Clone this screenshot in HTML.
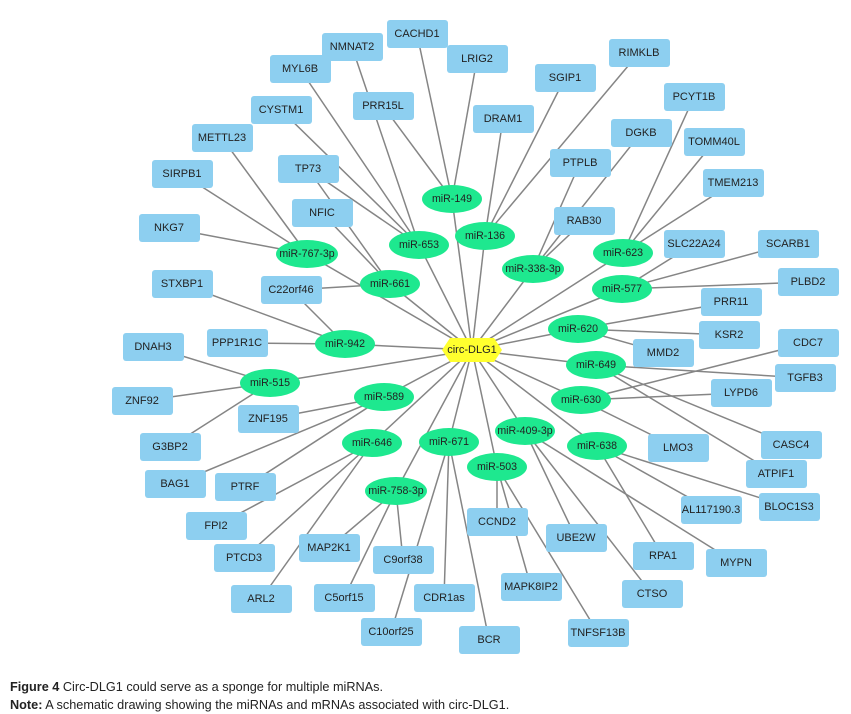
<!DOCTYPE html>
<html><head><meta charset="utf-8"><style>
body{margin:0;background:#fff;}
svg{display:block}
.b{fill:#8dcff0}
.e{fill:#1ee88f}
text{font-family:"Liberation Sans",Arial,sans-serif;font-size:11px;fill:#222;text-anchor:middle;dominant-baseline:central}
.m{font-size:10.6px}
line{stroke:#858585;stroke-width:1.5}
.cap{font-family:"Liberation Sans",Arial,sans-serif;font-size:12.7px;fill:#222;text-anchor:start;dominant-baseline:auto}
</style></head><body>
<svg width="851" height="714" viewBox="0 0 851 714" xmlns="http://www.w3.org/2000/svg">
<g id="edges">
<line x1="472" y1="350" x2="452" y2="199"/><line x1="472" y1="350" x2="419" y2="245"/><line x1="472" y1="350" x2="485" y2="236"/>
<line x1="472" y1="350" x2="307" y2="254"/><line x1="472" y1="350" x2="390" y2="284"/><line x1="472" y1="350" x2="533" y2="269"/>
<line x1="472" y1="350" x2="623" y2="253"/><line x1="472" y1="350" x2="622" y2="289"/><line x1="472" y1="350" x2="345" y2="344"/>
<line x1="472" y1="350" x2="578" y2="329"/><line x1="472" y1="350" x2="596" y2="365"/><line x1="472" y1="350" x2="270" y2="383"/>
<line x1="472" y1="350" x2="384" y2="397"/><line x1="472" y1="350" x2="581" y2="400"/><line x1="472" y1="350" x2="372" y2="443"/>
<line x1="472" y1="350" x2="449" y2="442"/><line x1="472" y1="350" x2="525" y2="431"/><line x1="472" y1="350" x2="597" y2="446"/>
<line x1="472" y1="350" x2="497" y2="467"/><line x1="472" y1="350" x2="396" y2="491"/>
<line x1="452" y1="199" x2="417" y2="34"/><line x1="452" y1="199" x2="477" y2="59"/><line x1="452" y1="199" x2="383" y2="106"/>
<line x1="419" y1="245" x2="300" y2="69"/><line x1="419" y1="245" x2="352" y2="47"/><line x1="419" y1="245" x2="281" y2="110"/><line x1="419" y1="245" x2="308" y2="169"/>
<line x1="307" y1="254" x2="222" y2="138"/><line x1="307" y1="254" x2="182" y2="174"/><line x1="307" y1="254" x2="169" y2="228"/>
<line x1="390" y1="284" x2="322" y2="213"/><line x1="390" y1="284" x2="308" y2="169"/><line x1="390" y1="284" x2="291" y2="290"/>
<line x1="345" y1="344" x2="182" y2="284"/><line x1="345" y1="344" x2="291" y2="290"/><line x1="345" y1="344" x2="237" y2="343"/>
<line x1="270" y1="383" x2="153" y2="347"/><line x1="270" y1="383" x2="142" y2="401"/><line x1="270" y1="383" x2="170" y2="447"/>
<line x1="384" y1="397" x2="268" y2="419"/><line x1="384" y1="397" x2="175" y2="484"/><line x1="384" y1="397" x2="245" y2="487"/>
<line x1="372" y1="443" x2="216" y2="526"/><line x1="372" y1="443" x2="244" y2="558"/><line x1="372" y1="443" x2="261" y2="599"/>
<line x1="396" y1="491" x2="329" y2="548"/><line x1="396" y1="491" x2="344" y2="598"/><line x1="396" y1="491" x2="403" y2="560"/>
<line x1="449" y1="442" x2="391" y2="632"/><line x1="449" y1="442" x2="444" y2="598"/><line x1="449" y1="442" x2="489" y2="640"/>
<line x1="497" y1="467" x2="497" y2="522"/><line x1="497" y1="467" x2="531" y2="587"/><line x1="497" y1="467" x2="598" y2="633"/>
<line x1="525" y1="431" x2="576" y2="538"/><line x1="525" y1="431" x2="652" y2="594"/><line x1="525" y1="431" x2="736" y2="563"/>
<line x1="597" y1="446" x2="663" y2="556"/><line x1="597" y1="446" x2="711" y2="510"/><line x1="597" y1="446" x2="789" y2="507"/>
<line x1="581" y1="400" x2="808" y2="343"/><line x1="581" y1="400" x2="741" y2="393"/><line x1="581" y1="400" x2="678" y2="448"/>
<line x1="596" y1="365" x2="805" y2="378"/><line x1="596" y1="365" x2="791" y2="445"/><line x1="596" y1="365" x2="776" y2="474"/>
<line x1="578" y1="329" x2="731" y2="302"/><line x1="578" y1="329" x2="729" y2="335"/><line x1="578" y1="329" x2="663" y2="353"/>
<line x1="622" y1="289" x2="694" y2="244"/><line x1="622" y1="289" x2="788" y2="244"/><line x1="622" y1="289" x2="808" y2="282"/>
<line x1="623" y1="253" x2="694" y2="97"/><line x1="623" y1="253" x2="714" y2="142"/><line x1="623" y1="253" x2="733" y2="183"/>
<line x1="533" y1="269" x2="580" y2="163"/><line x1="533" y1="269" x2="641" y2="133"/><line x1="533" y1="269" x2="584" y2="221"/>
<line x1="485" y1="236" x2="503" y2="119"/><line x1="485" y1="236" x2="565" y2="78"/><line x1="485" y1="236" x2="639" y2="53"/>
</g>
<g id="boxes">
<rect class="b" x="387" y="20" width="61" height="28" rx="3"/><text x="417" y="34">CACHD1</text>
<rect class="b" x="447" y="45" width="61" height="28" rx="3"/><text x="477" y="59">LRIG2</text>
<rect class="b" x="322" y="33" width="61" height="28" rx="3"/><text x="352" y="47">NMNAT2</text>
<rect class="b" x="270" y="55" width="61" height="28" rx="3"/><text x="300" y="69">MYL6B</text>
<rect class="b" x="609" y="39" width="61" height="28" rx="3"/><text x="639" y="53">RIMKLB</text>
<rect class="b" x="535" y="64" width="61" height="28" rx="3"/><text x="565" y="78">SGIP1</text>
<rect class="b" x="353" y="92" width="61" height="28" rx="3"/><text x="383" y="106">PRR15L</text>
<rect class="b" x="251" y="96" width="61" height="28" rx="3"/><text x="281" y="110">CYSTM1</text>
<rect class="b" x="473" y="105" width="61" height="28" rx="3"/><text x="503" y="119">DRAM1</text>
<rect class="b" x="664" y="83" width="61" height="28" rx="3"/><text x="694" y="97">PCYT1B</text>
<rect class="b" x="192" y="124" width="61" height="28" rx="3"/><text x="222" y="138">METTL23</text>
<rect class="b" x="611" y="119" width="61" height="28" rx="3"/><text x="641" y="133">DGKB</text>
<rect class="b" x="684" y="128" width="61" height="28" rx="3"/><text x="714" y="142">TOMM40L</text>
<rect class="b" x="550" y="149" width="61" height="28" rx="3"/><text x="580" y="163">PTPLB</text>
<rect class="b" x="278" y="155" width="61" height="28" rx="3"/><text x="308" y="169">TP73</text>
<rect class="b" x="152" y="160" width="61" height="28" rx="3"/><text x="182" y="174">SIRPB1</text>
<rect class="b" x="703" y="169" width="61" height="28" rx="3"/><text x="733" y="183">TMEM213</text>
<rect class="b" x="292" y="199" width="61" height="28" rx="3"/><text x="322" y="213">NFIC</text>
<rect class="b" x="554" y="207" width="61" height="28" rx="3"/><text x="584" y="221">RAB30</text>
<rect class="b" x="139" y="214" width="61" height="28" rx="3"/><text x="169" y="228">NKG7</text>
<rect class="b" x="664" y="230" width="61" height="28" rx="3"/><text x="694" y="244">SLC22A24</text>
<rect class="b" x="758" y="230" width="61" height="28" rx="3"/><text x="788" y="244">SCARB1</text>
<rect class="b" x="152" y="270" width="61" height="28" rx="3"/><text x="182" y="284">STXBP1</text>
<rect class="b" x="261" y="276" width="61" height="28" rx="3"/><text x="291" y="290">C22orf46</text>
<rect class="b" x="778" y="268" width="61" height="28" rx="3"/><text x="808" y="282">PLBD2</text>
<rect class="b" x="701" y="288" width="61" height="28" rx="3"/><text x="731" y="302">PRR11</text>
<rect class="b" x="123" y="333" width="61" height="28" rx="3"/><text x="153" y="347">DNAH3</text>
<rect class="b" x="207" y="329" width="61" height="28" rx="3"/><text x="237" y="343">PPP1R1C</text>
<rect class="b" x="699" y="321" width="61" height="28" rx="3"/><text x="729" y="335">KSR2</text>
<rect class="b" x="778" y="329" width="61" height="28" rx="3"/><text x="808" y="343">CDC7</text>
<rect class="b" x="633" y="339" width="61" height="28" rx="3"/><text x="663" y="353">MMD2</text>
<rect class="b" x="775" y="364" width="61" height="28" rx="3"/><text x="805" y="378">TGFB3</text>
<rect class="b" x="112" y="387" width="61" height="28" rx="3"/><text x="142" y="401">ZNF92</text>
<rect class="b" x="238" y="405" width="61" height="28" rx="3"/><text x="268" y="419">ZNF195</text>
<rect class="b" x="711" y="379" width="61" height="28" rx="3"/><text x="741" y="393">LYPD6</text>
<rect class="b" x="648" y="434" width="61" height="28" rx="3"/><text x="678" y="448">LMO3</text>
<rect class="b" x="761" y="431" width="61" height="28" rx="3"/><text x="791" y="445">CASC4</text>
<rect class="b" x="140" y="433" width="61" height="28" rx="3"/><text x="170" y="447">G3BP2</text>
<rect class="b" x="746" y="460" width="61" height="28" rx="3"/><text x="776" y="474">ATPIF1</text>
<rect class="b" x="145" y="470" width="61" height="28" rx="3"/><text x="175" y="484">BAG1</text>
<rect class="b" x="215" y="473" width="61" height="28" rx="3"/><text x="245" y="487">PTRF</text>
<rect class="b" x="681" y="496" width="61" height="28" rx="3"/><text x="711" y="510">AL117190.3</text>
<rect class="b" x="759" y="493" width="61" height="28" rx="3"/><text x="789" y="507">BLOC1S3</text>
<rect class="b" x="186" y="512" width="61" height="28" rx="3"/><text x="216" y="526">FPI2</text>
<rect class="b" x="467" y="508" width="61" height="28" rx="3"/><text x="497" y="522">CCND2</text>
<rect class="b" x="546" y="524" width="61" height="28" rx="3"/><text x="576" y="538">UBE2W</text>
<rect class="b" x="299" y="534" width="61" height="28" rx="3"/><text x="329" y="548">MAP2K1</text>
<rect class="b" x="214" y="544" width="61" height="28" rx="3"/><text x="244" y="558">PTCD3</text>
<rect class="b" x="373" y="546" width="61" height="28" rx="3"/><text x="403" y="560">C9orf38</text>
<rect class="b" x="633" y="542" width="61" height="28" rx="3"/><text x="663" y="556">RPA1</text>
<rect class="b" x="706" y="549" width="61" height="28" rx="3"/><text x="736" y="563">MYPN</text>
<rect class="b" x="231" y="585" width="61" height="28" rx="3"/><text x="261" y="599">ARL2</text>
<rect class="b" x="314" y="584" width="61" height="28" rx="3"/><text x="344" y="598">C5orf15</text>
<rect class="b" x="414" y="584" width="61" height="28" rx="3"/><text x="444" y="598">CDR1as</text>
<rect class="b" x="501" y="573" width="61" height="28" rx="3"/><text x="531" y="587">MAPK8IP2</text>
<rect class="b" x="622" y="580" width="61" height="28" rx="3"/><text x="652" y="594">CTSO</text>
<rect class="b" x="361" y="618" width="61" height="28" rx="3"/><text x="391" y="632">C10orf25</text>
<rect class="b" x="459" y="626" width="61" height="28" rx="3"/><text x="489" y="640">BCR</text>
<rect class="b" x="568" y="619" width="61" height="28" rx="3"/><text x="598" y="633">TNFSF13B</text>
</g>
<g id="mirnas">
<ellipse class="e" cx="452" cy="199" rx="30" ry="14"/><text class="m" x="452" y="199">miR-149</text>
<ellipse class="e" cx="419" cy="245" rx="30" ry="14"/><text class="m" x="419" y="245">miR-653</text>
<ellipse class="e" cx="485" cy="236" rx="30" ry="14"/><text class="m" x="485" y="236">miR-136</text>
<ellipse class="e" cx="307" cy="254" rx="31" ry="14"/><text class="m" x="307" y="254">miR-767-3p</text>
<ellipse class="e" cx="390" cy="284" rx="30" ry="14"/><text class="m" x="390" y="284">miR-661</text>
<ellipse class="e" cx="533" cy="269" rx="31" ry="14"/><text class="m" x="533" y="269">miR-338-3p</text>
<ellipse class="e" cx="623" cy="253" rx="30" ry="14"/><text class="m" x="623" y="253">miR-623</text>
<ellipse class="e" cx="622" cy="289" rx="30" ry="14"/><text class="m" x="622" y="289">miR-577</text>
<ellipse class="e" cx="345" cy="344" rx="30" ry="14"/><text class="m" x="345" y="344">miR-942</text>
<ellipse class="e" cx="578" cy="329" rx="30" ry="14"/><text class="m" x="578" y="329">miR-620</text>
<ellipse class="e" cx="596" cy="365" rx="30" ry="14"/><text class="m" x="596" y="365">miR-649</text>
<ellipse class="e" cx="270" cy="383" rx="30" ry="14"/><text class="m" x="270" y="383">miR-515</text>
<ellipse class="e" cx="384" cy="397" rx="30" ry="14"/><text class="m" x="384" y="397">miR-589</text>
<ellipse class="e" cx="581" cy="400" rx="30" ry="14"/><text class="m" x="581" y="400">miR-630</text>
<ellipse class="e" cx="372" cy="443" rx="30" ry="14"/><text class="m" x="372" y="443">miR-646</text>
<ellipse class="e" cx="449" cy="442" rx="30" ry="14"/><text class="m" x="449" y="442">miR-671</text>
<ellipse class="e" cx="525" cy="431" rx="30" ry="14"/><text class="m" x="525" y="431">miR-409-3p</text>
<ellipse class="e" cx="597" cy="446" rx="30" ry="14"/><text class="m" x="597" y="446">miR-638</text>
<ellipse class="e" cx="497" cy="467" rx="30" ry="14"/><text class="m" x="497" y="467">miR-503</text>
<ellipse class="e" cx="396" cy="491" rx="31" ry="14"/><text class="m" x="396" y="491">miR-758-3p</text>
</g>
<polygon points="442,350 450,338 494,338 502,350 494,362 450,362" fill="#ffff2e"/>
<text x="472" y="350">circ-DLG1</text>
<text class="cap" x="10" y="691"><tspan font-weight="bold">Figure 4</tspan> Circ-DLG1 could serve as a sponge for multiple miRNAs.</text>
<text class="cap" x="10" y="709"><tspan font-weight="bold">Note:</tspan> A schematic drawing showing the miRNAs and mRNAs associated with circ-DLG1.</text>
</svg>
</body></html>
